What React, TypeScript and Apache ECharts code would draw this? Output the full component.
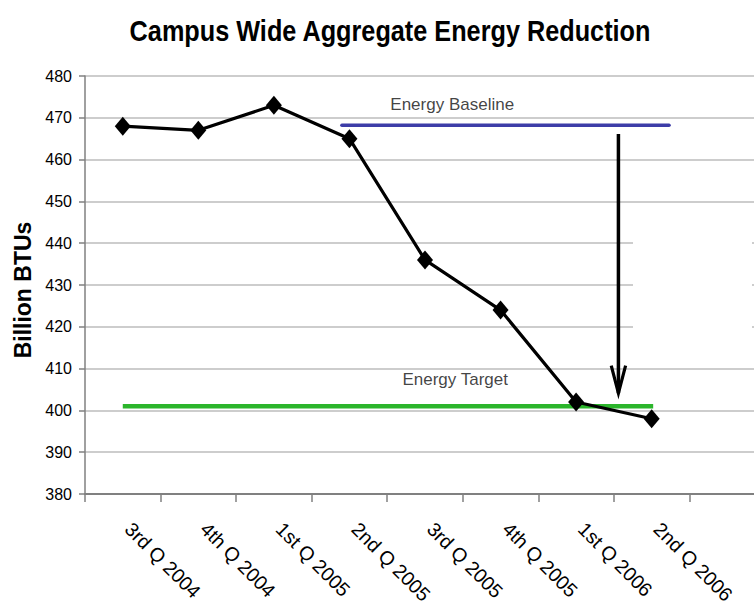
import { useEffect, useRef } from "react";
import * as echarts from "echarts";

// ---- data ----
const categories = [
  "3rd Q 2004",
  "4th Q 2004",
  "1st Q 2005",
  "2nd Q 2005",
  "3rd Q 2005",
  "4th Q 2005",
  "1st Q 2006",
  "2nd Q 2006",
];
const energyValues = [468, 467, 473, 465, 436, 424, 402, 398];

const yMin = 380;
const yMax = 480;
const yInterval = 10;

// annotation values (x in category units on a 0..9 scale, y in Billion BTUs)
const baselineValue = 468.2;
const baselineSpan = [3.4, 7.73];
const targetValue = 401;
const targetSpan = [0.5, 7.52];
const arrowX = 7.06;
const arrowFrom = 466.1;
const arrowTo = 404.1;
const annotationLabels = [
  { name: "Energy Baseline", value: [4.86, 473.2] },
  { name: "Energy Target", value: [4.9, 407.35] },
];

const TITLE = "Campus Wide Aggregate Energy Reduction";
const FONT = "'Liberation Sans', Arial, sans-serif";

export default function App() {
  const ref = useRef<HTMLDivElement>(null);

  useEffect(() => {
    document.body.style.margin = "0";
    document.body.style.overflow = "hidden";
    if (!ref.current) return;
    const chart = echarts.init(ref.current, undefined, { renderer: "svg" });

    const xCats = [...categories, ""];
    const headDx = 0.095;
    const headDy = 6.6;

    chart.setOption({
      animation: false,
      backgroundColor: "#ffffff",
      textStyle: { fontFamily: FONT },
      grid: {
        left: 85,
        width: 680,
        top: 76,
        bottom: 113,
        containLabel: false,
        outerBoundsMode: "none",
      },
      xAxis: [
        {
          type: "category",
          data: xCats,
          boundaryGap: true,
          axisLine: { show: true, lineStyle: { color: "#808080", width: 2 } },
          axisTick: { show: true, length: 8, lineStyle: { color: "#808080", width: 1.5 } },
          axisLabel: {
            rotate: -45,
            margin: 26,
            padding: [0, 0, 0, 8],
            fontSize: 19.5,
            color: "#000",
            fontFamily: FONT,
            interval: 0,
          },
          splitLine: { show: false },
        },
        {
          type: "value",
          min: 0,
          max: 9,
          show: false,
          splitLine: { show: false },
        },
      ],
      yAxis: {
        type: "value",
        min: yMin,
        max: yMax,
        interval: yInterval,
        name: "Billion BTUs",
        nameLocation: "middle",
        nameGap: 41,
        nameRotate: 90,
        nameTextStyle: {
          fontSize: 23,
          fontWeight: "bold",
          color: "#000",
          fontFamily: FONT,
          padding: [0, 10, 0, 0],
        },
        axisLine: { show: true, lineStyle: { color: "#808080", width: 1.5 } },
        axisTick: { show: true, length: 6, lineStyle: { color: "#808080", width: 1.5 } },
        axisLabel: { fontSize: 16, color: "#000", margin: 13, fontFamily: FONT },
        splitLine: { show: true, lineStyle: { color: "#bdbdbd", width: 1.5 } },
      },
      graphic: [
        {
          type: "text",
          x: 390,
          y: 31,
          scaleX: 0.871,
          style: {
            text: TITLE,
            fontFamily: FONT,
            fontWeight: "bold",
            fontSize: 29,
            fill: "#000",
            align: "center",
            verticalAlign: "middle",
          },
          z: 20,
        },
        {
          type: "rect",
          shape: { x: 633, y: 222, width: 119, height: 126 },
          style: { fill: "#ffffff" },
          z: 10,
        },
      ],
      series: [
        {
          name: "Energy Target",
          type: "line",
          xAxisIndex: 1,
          data: [
            [targetSpan[0], targetValue],
            [targetSpan[1], targetValue],
          ],
          symbol: "none",
          lineStyle: { color: "#2bb52b", width: 4.5, cap: "butt" },
          z: 2,
        },
        {
          name: "Energy Baseline",
          type: "line",
          xAxisIndex: 1,
          data: [
            [baselineSpan[0], baselineValue],
            [baselineSpan[1], baselineValue],
          ],
          symbol: "none",
          lineStyle: { color: "#3d3da8", width: 3.5, cap: "round" },
          z: 2,
        },
        {
          name: "arrowShaft",
          type: "line",
          xAxisIndex: 1,
          data: [
            [arrowX, arrowFrom],
            [arrowX, arrowTo],
          ],
          symbol: "none",
          lineStyle: { color: "#000", width: 3.5, cap: "butt" },
          z: 3,
        },
        {
          name: "arrowHead",
          type: "line",
          xAxisIndex: 1,
          data: [
            [arrowX - headDx, arrowTo + headDy],
            [arrowX, arrowTo],
            [arrowX + headDx, arrowTo + headDy],
          ],
          symbol: "none",
          lineStyle: { color: "#000", width: 3.2, cap: "butt", join: "miter" },
          z: 3,
        },
        {
          name: "labels",
          type: "scatter",
          xAxisIndex: 1,
          data: annotationLabels,
          symbolSize: 0,
          label: {
            show: true,
            position: "inside",
            formatter: "{b}",
            fontSize: 17,
            color: "#111",
            fontFamily: FONT,
          },
          z: 4,
        },
        {
          name: "Energy",
          type: "line",
          xAxisIndex: 0,
          data: energyValues,
          symbol: "diamond",
          symbolSize: [16, 19],
          itemStyle: { color: "#000" },
          lineStyle: { color: "#000", width: 3.2 },
          z: 5,
        },
      ],
    });

    return () => chart.dispose();
  }, []);

  return <div ref={ref} style={{ width: 754, height: 607, overflow: "hidden" }} />;
}
